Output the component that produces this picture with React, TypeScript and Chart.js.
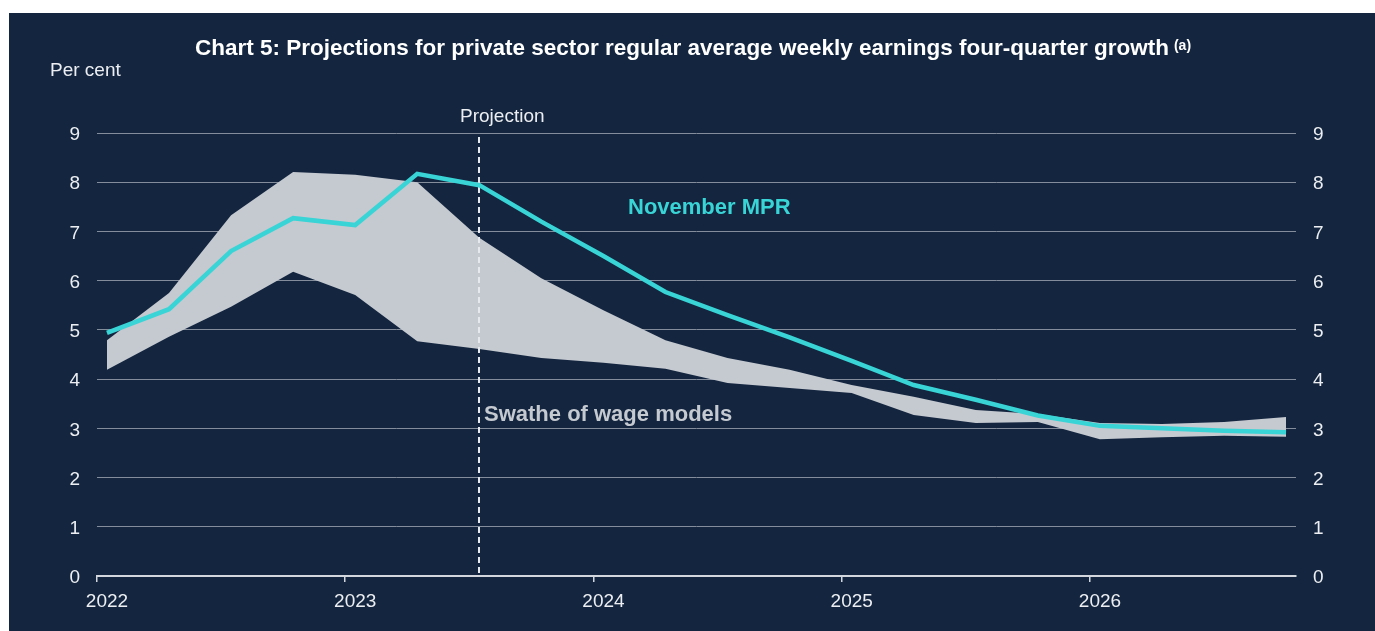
import React, { useEffect, useRef } from 'react';
import { Chart, registerables } from 'chart.js';

Chart.register(...registerables);

const quarters = [
  '2022 Q1', '2022 Q2', '2022 Q3', '2022 Q4',
  '2023 Q1', '2023 Q2', '2023 Q3', '2023 Q4',
  '2024 Q1', '2024 Q2', '2024 Q3', '2024 Q4',
  '2025 Q1', '2025 Q2', '2025 Q3', '2025 Q4',
  '2026 Q1', '2026 Q2', '2026 Q3', '2026 Q4',
];
const novemberMPR = [4.94, 5.42, 6.6, 7.27, 7.13, 8.17, 7.94, 7.2, 6.5, 5.77, 5.3, 4.85, 4.37, 3.88, 3.58, 3.26, 3.05, 3.0, 2.95, 2.92];
const swatheUpper = [4.79, 5.75, 7.33, 8.21, 8.15, 8.0, 6.87, 6.05, 5.4, 4.79, 4.43, 4.19, 3.88, 3.64, 3.37, 3.29, 3.11, 3.09, 3.13, 3.23];
const swatheLower = [4.19, 4.86, 5.47, 6.18, 5.71, 4.77, 4.61, 4.43, 4.33, 4.21, 3.92, 3.82, 3.72, 3.27, 3.11, 3.13, 2.78, 2.82, 2.85, 2.83];
const yearTicks = [2022, 2023, 2024, 2025, 2026];
const yTicks = [0, 1, 2, 3, 4, 5, 6, 7, 8, 9];
const projectionStart = '2023 Q3';

const TITLE = 'Chart 5: Projections for private sector regular average weekly earnings four-quarter growth';
const FONT = '"Liberation Sans", Arial, sans-serif';
const NAVY = '#13253f';
const CYAN = '#38d4d6';
const GREY_BAND = '#c5c9d0';
const TEXT = '#eceef1';

// quarterly observations are dated mid-way through the first month of each quarter
const quarterToYear = (q: string) => {
  const [y, qq] = q.split(' Q');
  return Number(y) + (Number(qq) - 1) / 4 + 0.04;
};

const toPoints = (vals: number[]) => vals.map((v, i) => ({ x: quarterToYear(quarters[i]), y: v }));

const annotations = {
  id: 'annotations',
  afterDatasetDraw(chart: any, args: any) {
    if (args.index !== 1) return;
    const { ctx, chartArea, scales } = chart;
    const x = Math.round(scales.x.getPixelForValue(quarterToYear(projectionStart)));
    ctx.save();
    ctx.strokeStyle = '#e6e9ee';
    ctx.lineWidth = 2;
    ctx.setLineDash([6, 4]);
    ctx.beginPath();
    ctx.moveTo(x, chartArea.top + 4);
    ctx.lineTo(x, chartArea.bottom);
    ctx.stroke();
    ctx.restore();
  },
  afterDraw(chart: any) {
    const { ctx, scales } = chart;
    ctx.save();
    // title
    ctx.fillStyle = '#ffffff';
    ctx.textBaseline = 'alphabetic';
    ctx.font = `bold 22.5px ${FONT}`;
    const mainW = ctx.measureText(TITLE).width;
    ctx.font = `bold 14px ${FONT}`;
    const supW = ctx.measureText('(a)').width;
    const total = mainW + 5 + supW;
    const startX = 684 - total / 2;
    ctx.font = `bold 22.5px ${FONT}`;
    ctx.textAlign = 'left';
    ctx.fillText(TITLE, startX, 42);
    ctx.font = `bold 14px ${FONT}`;
    ctx.fillText('(a)', startX + mainW + 5, 37);

    // axis unit
    ctx.fillStyle = TEXT;
    ctx.font = `19px ${FONT}`;
    ctx.fillText('Per cent', 41, 63);

    // projection label
    const px = scales.x.getPixelForValue(quarterToYear(projectionStart));
    ctx.textAlign = 'center';
    ctx.fillText('Projection', px + 23, 109);

    // series labels
    ctx.textAlign = 'left';
    ctx.font = `bold 22px ${FONT}`;
    ctx.fillStyle = CYAN;
    ctx.fillText('November MPR', 619, 201);
    ctx.fillStyle = GREY_BAND;
    ctx.fillText('Swathe of wage models', 475, 408);
    ctx.restore();
  },
};

export default function App() {
  const canvasRef = useRef<HTMLCanvasElement | null>(null);

  useEffect(() => {
    if (!canvasRef.current) return;
    const tickFont = { family: FONT, size: 19 };
    const chart = new Chart(canvasRef.current, {
      type: 'line',
      data: {
        datasets: [
          {
            label: 'November MPR',
            data: toPoints(novemberMPR),
            borderColor: CYAN,
            borderWidth: 4.5,
            pointRadius: 0,
            tension: 0,
            fill: false,
            yAxisID: 'y',
          },
          {
            label: 'Swathe lower',
            data: toPoints(swatheLower),
            borderWidth: 0,
            borderColor: 'rgba(0,0,0,0)',
            pointRadius: 0,
            tension: 0,
            fill: false,
            yAxisID: 'y',
          },
          {
            label: 'Swathe upper',
            data: toPoints(swatheUpper),
            borderWidth: 0,
            borderColor: 'rgba(0,0,0,0)',
            backgroundColor: GREY_BAND,
            pointRadius: 0,
            tension: 0,
            fill: '-1',
            yAxisID: 'y',
          },
        ],
      },
      options: {
        responsive: false,
        animation: false,
        layout: { padding: { top: 120, left: 0, right: 0, bottom: 0 } },
        plugins: {
          legend: { display: false },
          title: { display: false },
          tooltip: { enabled: false },
        },
        scales: {
          x: {
            type: 'linear',
            min: 2022,
            max: 2026.83,
            afterBuildTicks: (scale: any) => {
              scale.ticks = yearTicks.map((v) => ({ value: v }));
            },
            afterFit: (scale: any) => {
              scale.height = 55;
            },
            grid: {
              display: true,
              drawOnChartArea: false,
              drawTicks: true,
              tickLength: 6,
              color: '#d3d7dd',
              lineWidth: 1.5,
            },
            border: { display: true, color: '#d3d7dd', width: 2 },
            ticks: {
              color: TEXT,
              font: tickFont,
              padding: 8,
              labelOffset: 10,
              maxRotation: 0,
              autoSkip: false,
              callback: (v: any) => String(v),
            },
          },
          y: {
            position: 'left',
            min: 0,
            max: 9,
            afterBuildTicks: (scale: any) => {
              scale.ticks = yTicks.map((v) => ({ value: v }));
            },
            afterFit: (scale: any) => {
              scale.width = 88;
            },
            grid: { color: '#838d9c', lineWidth: 1, drawTicks: false },
            border: { display: false },
            ticks: { color: TEXT, font: tickFont, padding: 17, labelOffset: 2 },
          },
          y2: {
            position: 'right',
            min: 0,
            max: 9,
            afterBuildTicks: (scale: any) => {
              scale.ticks = yTicks.map((v) => ({ value: v }));
            },
            afterFit: (scale: any) => {
              scale.width = 79;
            },
            grid: { display: false, drawTicks: false },
            border: { display: false },
            ticks: { color: TEXT, font: tickFont, padding: 17, labelOffset: 2 },
          },
        },
      },
      plugins: [annotations],
    } as any);
    return () => chart.destroy();
  }, []);

  return (
    <div
      style={{
        position: 'absolute',
        left: 9,
        top: 13,
        width: 1366,
        height: 618,
        background: NAVY,
      }}
    >
      <canvas ref={canvasRef} width={1366} height={618} style={{ display: 'block' }} />
    </div>
  );
}
